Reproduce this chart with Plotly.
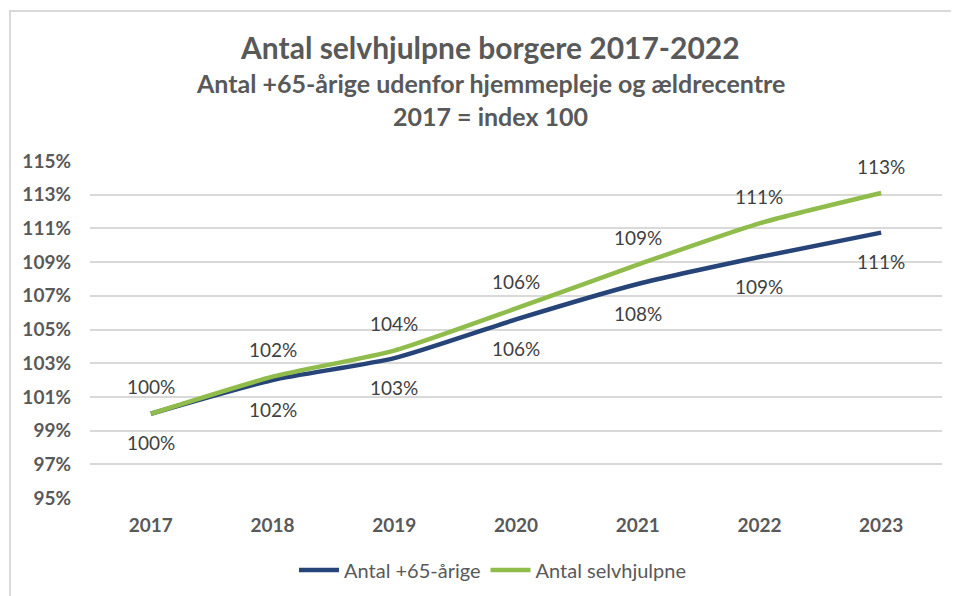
import plotly.graph_objects as go

years = ["2017", "2018", "2019", "2020", "2021", "2022", "2023"]
antal_65 = [100.0, 102.0, 103.3, 105.6, 107.7, 109.3, 110.75]
antal_selvhjulpne = [100.0, 102.2, 103.75, 106.25, 108.85, 111.3, 113.1]
y_ticks = [95, 97, 99, 101, 103, 105, 107, 109, 111, 113, 115]
y_ticklabels = [f"{v}%" for v in y_ticks]

FONT = "Lato, 'Liberation Sans', sans-serif"
BLUE = "#264478"
GREEN = "#8FBC4B"
GRAY = "#595959"

# page offset (body margin) and plot area in figure pixels
OFF = 8
W, H = 959, 596
L, R, T, B = 82, 25, 153, 106
pw = W - L - R
ph = H - T - B


def px_x(px):
    return (px - OFF - L) / pw


def px_y(py):
    return (H - B - (py - OFF)) / ph


fig = go.Figure()
fig.add_trace(go.Scatter(x=years, y=antal_65, mode="lines", name="Antal +65-årige",
                         line=dict(color=BLUE, width=4.5, shape="spline", smoothing=0.6)))
fig.add_trace(go.Scatter(x=years, y=antal_selvhjulpne, mode="lines", name="Antal selvhjulpne",
                         line=dict(color=GREEN, width=4.5, shape="spline", smoothing=0.6)))

annotations = []
for i, v in enumerate(antal_65):
    annotations.append(dict(x=i, y=v, xref="x", yref="y", text=f"{round(v)}%", showarrow=False,
                            yshift=-29, font=dict(family=FONT, size=19, color="#404040")))
for i, v in enumerate(antal_selvhjulpne):
    annotations.append(dict(x=i, y=v, xref="x", yref="y", text=f"{round(v)}%", showarrow=False,
                            yshift=27, font=dict(family=FONT, size=19, color="#404040")))

title_lines = [
    ("Antal selvhjulpne borgere 2017-2022", 47, 30),
    ("Antal +65-årige udenfor hjemmepleje og ældrecentre", 83, 25),
    ("2017 = index 100", 116, 25),
]
for txt, py, sz in title_lines:
    annotations.append(dict(x=px_x(490), y=px_y(py), xref="paper", yref="paper", text=f"<b>{txt}</b>",
                            showarrow=False, xanchor="center", yanchor="middle",
                            font=dict(family=FONT, size=sz, color=GRAY)))

fig.update_layout(
    width=W, height=H,
    margin=dict(l=L, r=R, t=T, b=B),
    paper_bgcolor="white", plot_bgcolor="white",
    font=dict(family=FONT, color=GRAY),
    showlegend=True,
    legend=dict(orientation="h", x=px_x(493), xanchor="center", y=px_y(570), yanchor="middle",
                font=dict(family=FONT, size=20, color=GRAY), itemwidth=40, tracegroupgap=0,
                bgcolor="rgba(0,0,0,0)"),
    annotations=annotations,
    shapes=[dict(type="rect", xref="paper", yref="paper", x0=px_x(10), x1=px_x(1000),
                 y0=px_y(700), y1=px_y(11), line=dict(color="#D9D9D9", width=2), layer="below")],
)
fig.update_xaxes(type="category", range=[-0.5, 6.5], showgrid=False, showline=False, zeroline=False,
                 tickfont=dict(family=FONT, size=19, color=GRAY), ticks="", ticklabelstandoff=14,
                 tickprefix="<b>", ticksuffix="</b>")
fig.update_yaxes(range=[95, 115], tickvals=y_ticks, ticktext=[f"<b>{t}</b>" for t in y_ticklabels],
                 showgrid=True, gridcolor="#D9D9D9", gridwidth=1.5, zeroline=False, showline=False,
                 tickfont=dict(family=FONT, size=19, color=GRAY), ticks="", ticklabelstandoff=18)

fig.write_html("out.html")
